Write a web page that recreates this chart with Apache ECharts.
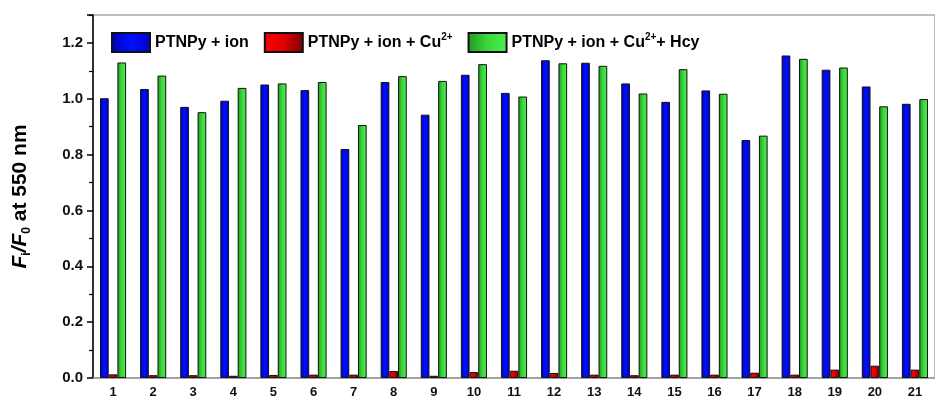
<!DOCTYPE html>
<html><head><meta charset="utf-8">
<script src="https://cdn.jsdelivr.net/npm/echarts@6/dist/echarts.min.js"></script>
<style>html,body{margin:0;padding:0;background:#fff}#c{width:935px;height:399px}</style>
</head><body><div id="c"></div>
<script>
var categories = ['1','2','3','4','5','6','7','8','9','10','11','12','13','14','15','16','17','18','19','20','21'];
var seriesNames = ['PTNPy + ion', 'PTNPy + ion + Cu2+', 'PTNPy + ion + Cu2++ Hcy'];
var ionValues = [1.002,1.035,0.971,0.993,1.051,1.031,0.820,1.060,0.943,1.086,1.021,1.138,1.129,1.055,0.989,1.030,0.852,1.155,1.104,1.044,0.982];
var cuValues = [0.013,0.010,0.010,0.008,0.011,0.012,0.012,0.025,0.008,0.021,0.026,0.018,0.012,0.010,0.012,0.012,0.019,0.012,0.030,0.044,0.030];
var hcyValues = [1.130,1.083,0.952,1.039,1.055,1.060,0.906,1.081,1.064,1.124,1.008,1.127,1.118,1.019,1.106,1.018,0.868,1.143,1.112,0.973,0.999];
var yTicks = [0, 0.2, 0.4, 0.6, 0.8, 1.0, 1.2];

function grad(stops){
  return {type:'linear', x:0, y:0, x2:1, y2:0, colorStops: stops.map(function(c,i){return {offset:i/(stops.length-1), color:c};})};
}
var blueFill = grad(['#0000b8','#0010ff','#0000c8']);
var redFill = grad(['#ff0000','#e00000','#7a0000']);
var greenFill = grad(['#1f9a1f','#3bd93b','#4cf04c']);
var font = 'Arial, "Liberation Sans", sans-serif';

var chart = echarts.init(document.getElementById('c'));
function mk(name, data, fill){
  return {name:name, type:'bar', data:data, barWidth:8.7, barGap:'0%',
    itemStyle:{color:fill, borderColor:'#111', borderWidth:1}};
}
chart.setOption({
  animation:false,
  grid:{left:93, top:15, bottom:20, right:-9, show:true, borderColor:'#aaa', borderWidth:1.5, backgroundColor:'transparent'},
  legend:{
    left:106, top:27, itemWidth:38, itemHeight:19, itemGap:15, icon:'rect',
    data:seriesNames,
    formatter:function(n){ return '{t|' + n.replace('Cu2+', 'Cu}{sup|2+}{t|') + '}'; },
    textStyle:{fontFamily:font, fontWeight:'bold', fontSize:16, color:'#000',
      rich:{t:{fontFamily:font, fontWeight:'bold', fontSize:16, color:'#000'},
            sup:{fontFamily:font, fontWeight:'bold', fontSize:10, color:'#000', verticalAlign:'top', padding:[0,0,10,0]}}}
  },
  xAxis:{type:'category', data:categories,
    axisLine:{lineStyle:{color:'#999', width:1.5}},
    axisTick:{show:false},
    axisLabel:{fontFamily:font, fontWeight:'bold', fontSize:13, color:'#111', margin:8}
  },
  yAxis:{type:'value', min:0, max:1.3, interval:0.2,
    name:'{it|F}{sub|i}{it|/F}{sub|0}{n| at 550 nm}',
    nameLocation:'middle', nameGap:60, nameRotate:90,
    nameTextStyle:{fontFamily:font, fontWeight:'bold', fontSize:21, color:'#000',
      rich:{it:{fontFamily:font, fontWeight:'bold', fontStyle:'italic', fontSize:21, color:'#000'},
            sub:{fontFamily:font, fontWeight:'bold', fontSize:12, color:'#000', verticalAlign:'bottom', padding:[14,0,0,0]},
            n:{fontFamily:font, fontWeight:'bold', fontSize:21, color:'#000'}}},
    axisLine:{show:true, lineStyle:{color:'#000', width:1.5}},
    axisTick:{show:true, inside:false, length:6, lineStyle:{color:'#000', width:1.5}},
    minorTick:{show:true, splitNumber:2, length:4, lineStyle:{color:'#000', width:1.2}},
    splitLine:{show:false},
    axisLabel:{fontFamily:font, fontWeight:'bold', fontSize:15, color:'#111', margin:10, showMaxLabel:false,
      formatter:function(v){ return yTicks.indexOf(Math.round(v*10)/10) >= 0 ? v.toFixed(1) : ''; }}
  },
  series:[mk(seriesNames[0], ionValues, blueFill), mk(seriesNames[1], cuValues, redFill), mk(seriesNames[2], hcyValues, greenFill)]
});
</script></body></html>
